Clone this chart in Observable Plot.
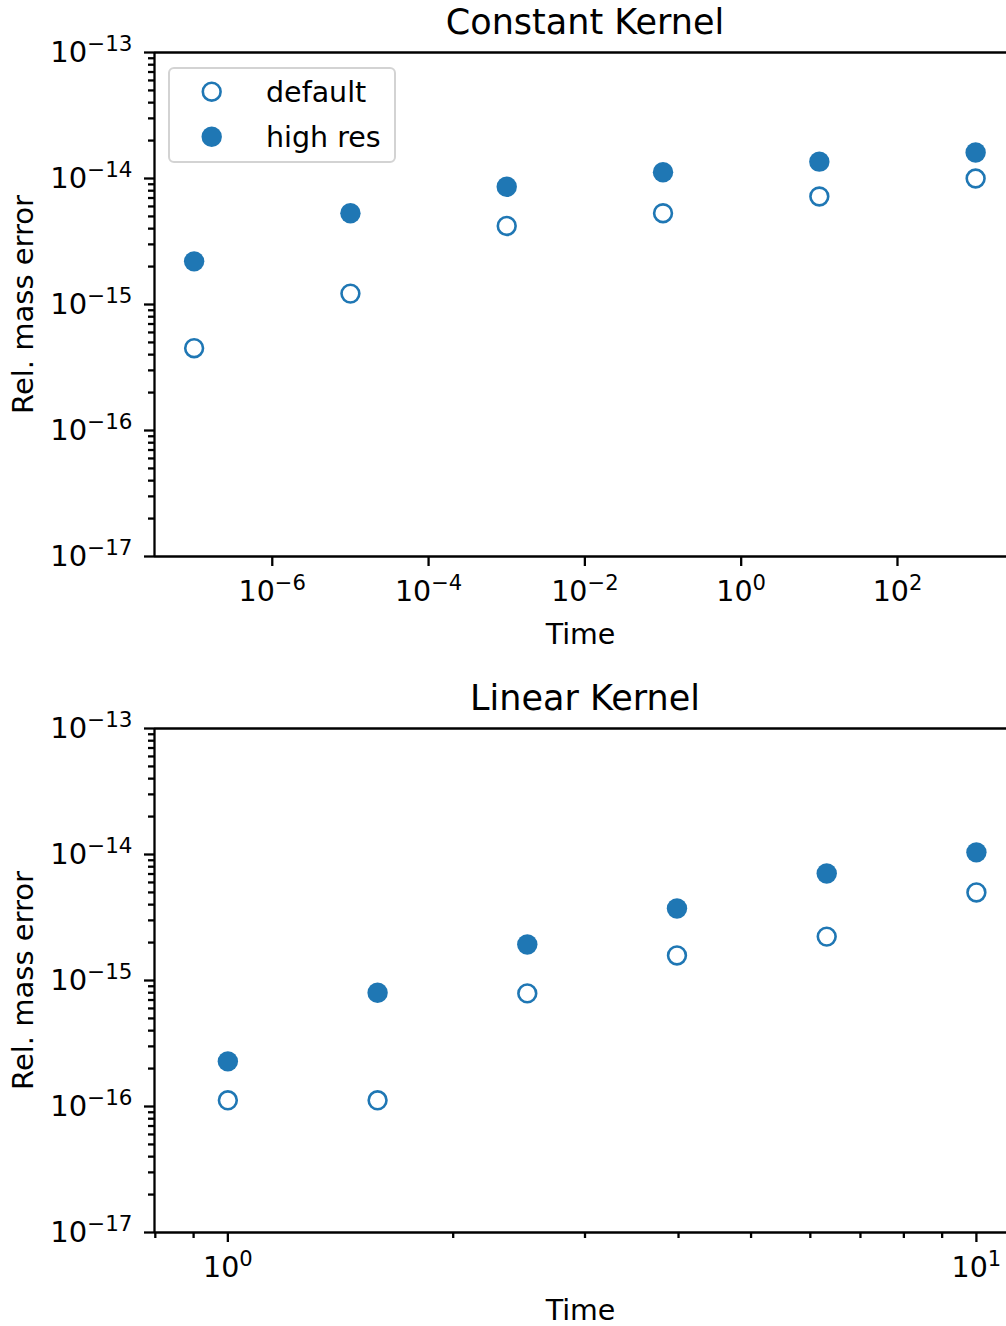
<!DOCTYPE html>
<html>
<head>
<meta charset="utf-8">
<script src="https://cdn.jsdelivr.net/npm/d3@7"></script>
<script src="https://cdn.jsdelivr.net/npm/@observablehq/plot@0.6"></script>
<style>
  html, body { margin: 0; padding: 0; background: white; }
  #wrap { position: relative; width: 1006px; height: 1326px; overflow: hidden; font-family: "DejaVu Sans", sans-serif; }
  #wrap svg { display: block; }
  #legend { position: absolute; left: 168px; top: 67px; width: 224px; height: 92px; border: 2px solid #d3d3d3; border-radius: 6px; background: rgba(255,255,255,0.8); }
</style>
</head>
<body>
<div id="wrap"></div>
<script>
// ---- data ----
const constTime = [1e-7, 1e-5, 1e-3, 1e-1, 1e1, 1e3];
const constDefault = [4.5e-16, 1.22e-15, 4.2e-15, 5.3e-15, 7.2e-15, 1.0e-14];
const constHighRes = [2.2e-15, 5.3e-15, 8.6e-15, 1.12e-14, 1.36e-14, 1.61e-14];

const linTime = [1, 1.585, 2.512, 3.981, 6.310, 10];
const linDefault = [1.12e-16, 1.12e-16, 7.9e-16, 1.58e-15, 2.23e-15, 5.0e-15];
const linHighRes = [2.28e-16, 8.0e-16, 1.93e-15, 3.73e-15, 7.06e-15, 1.04e-14];

const seriesNames = ["default", "high res"];
const titles = ["Constant Kernel", "Linear Kernel"];
const xLabel = "Time";
const yLabel = "Rel. mass error";

const yMajor = [1e-17, 1e-16, 1e-15, 1e-14, 1e-13];
const yMinor = [];
for (let k = -17; k <= -14; k++) for (let m = 2; m <= 9; m++) yMinor.push(m * Math.pow(10, k));

const constXMajor = [1e-6, 1e-4, 1e-2, 1, 1e2];
const constXDomain = [Math.pow(10, -7.507), Math.pow(10, 3.395)];
const linXMajor = [1, 10];
const linXMinor = [0.8, 0.9, 2, 3, 4, 5, 6, 7, 8, 9];
const linXDomain = [0.798, 10.97];

const BLUE = "#1f77b4";
const FONT = "DejaVu Sans";
const fmt = d => "10^" + Math.round(Math.log10(d));

function rows(t, v) { return t.map((x, i) => ({x, y: v[i]})); }

function panel({title, times, def, hi, xDomain, xMajor, xMinor, height}) {
  const marginTop = 52, plotH = 504;
  const marks = [
    Plot.axisY({ticks: yMinor, tickSize: 6, strokeWidth: 2.3, tickFormat: () => "", label: null}),
    Plot.axisY({ticks: yMajor, tickSize: 10, tickPadding: 12, strokeWidth: 2.3, tickFormat: fmt,
      label: yLabel, labelAnchor: "center", labelOffset: 142, labelArrow: "none", fontSize: 29}),
    Plot.axisX({ticks: xMajor, tickSize: 10, tickPadding: 14, strokeWidth: 2.3, tickFormat: fmt,
      label: xLabel, labelAnchor: "center", labelOffset: 87, labelArrow: "none"}),
    Plot.ruleY([yMajor[0], yMajor[yMajor.length - 1]], {stroke: "black", strokeWidth: 2.3}),
    Plot.ruleX([xDomain[0]], {stroke: "black", strokeWidth: 2.3}),
    Plot.dot(rows(times, def), {x: "x", y: "y", r: 8.9, stroke: BLUE, strokeWidth: 2.6, fill: "white"}),
    Plot.dot(rows(times, hi), {x: "x", y: "y", r: 10.2, fill: BLUE}),
    Plot.text([title], {text: d => d, frameAnchor: "top", lineAnchor: "middle", dy: -30, dx: 4.5, fontSize: 35, fill: "black"})
  ];
  if (xMinor) marks.splice(1, 0, Plot.axisX({ticks: xMinor, tickSize: 6, strokeWidth: 2.3, tickFormat: () => "", label: null}));
  const svg = Plot.plot({
    width: 1006, height,
    marginLeft: 154, marginRight: 0, marginTop, marginBottom: height - marginTop - plotH,
    style: {fontFamily: FONT, fontSize: "28.5px", color: "black", background: "white", overflow: "visible"},
    x: {type: "log", domain: xDomain},
    y: {type: "log", domain: [1e-17, 1e-13]},
    marks
  });
  svg.querySelectorAll("text").forEach(t => {
    const m = /^10\^(-?\d+)$/.exec(t.textContent);
    if (m) {
      const e = m[1].replace("-", "\u2212");
      t.innerHTML = `10<tspan dy="-0.52em" font-size="0.74em">${e}</tspan>`;
    }
  });
  return svg;
}

const wrap = document.getElementById("wrap");
wrap.appendChild(panel({title: titles[0], times: constTime, def: constDefault, hi: constHighRes,
  xDomain: constXDomain, xMajor: constXMajor, xMinor: null, height: 676}));
wrap.appendChild(panel({title: titles[1], times: linTime, def: linDefault, hi: linHighRes,
  xDomain: linXDomain, xMajor: linXMajor, xMinor: linXMinor, height: 650}));

// legend
const lg = document.createElement("div");
lg.id = "legend";
lg.innerHTML = `<svg width="224" height="92" style="font-family:'DejaVu Sans';font-size:28.5px">
  <circle cx="41.7" cy="22.7" r="8.9" fill="white" stroke="${BLUE}" stroke-width="2.6"></circle>
  <circle cx="41.7" cy="67.7" r="10.2" fill="${BLUE}"></circle>
  <text x="96" y="22.7" dy="0.35em">${seriesNames[0]}</text>
  <text x="96" y="67.7" dy="0.35em">${seriesNames[1]}</text>
</svg>`;
wrap.appendChild(lg);
</script>
</body>
</html>
